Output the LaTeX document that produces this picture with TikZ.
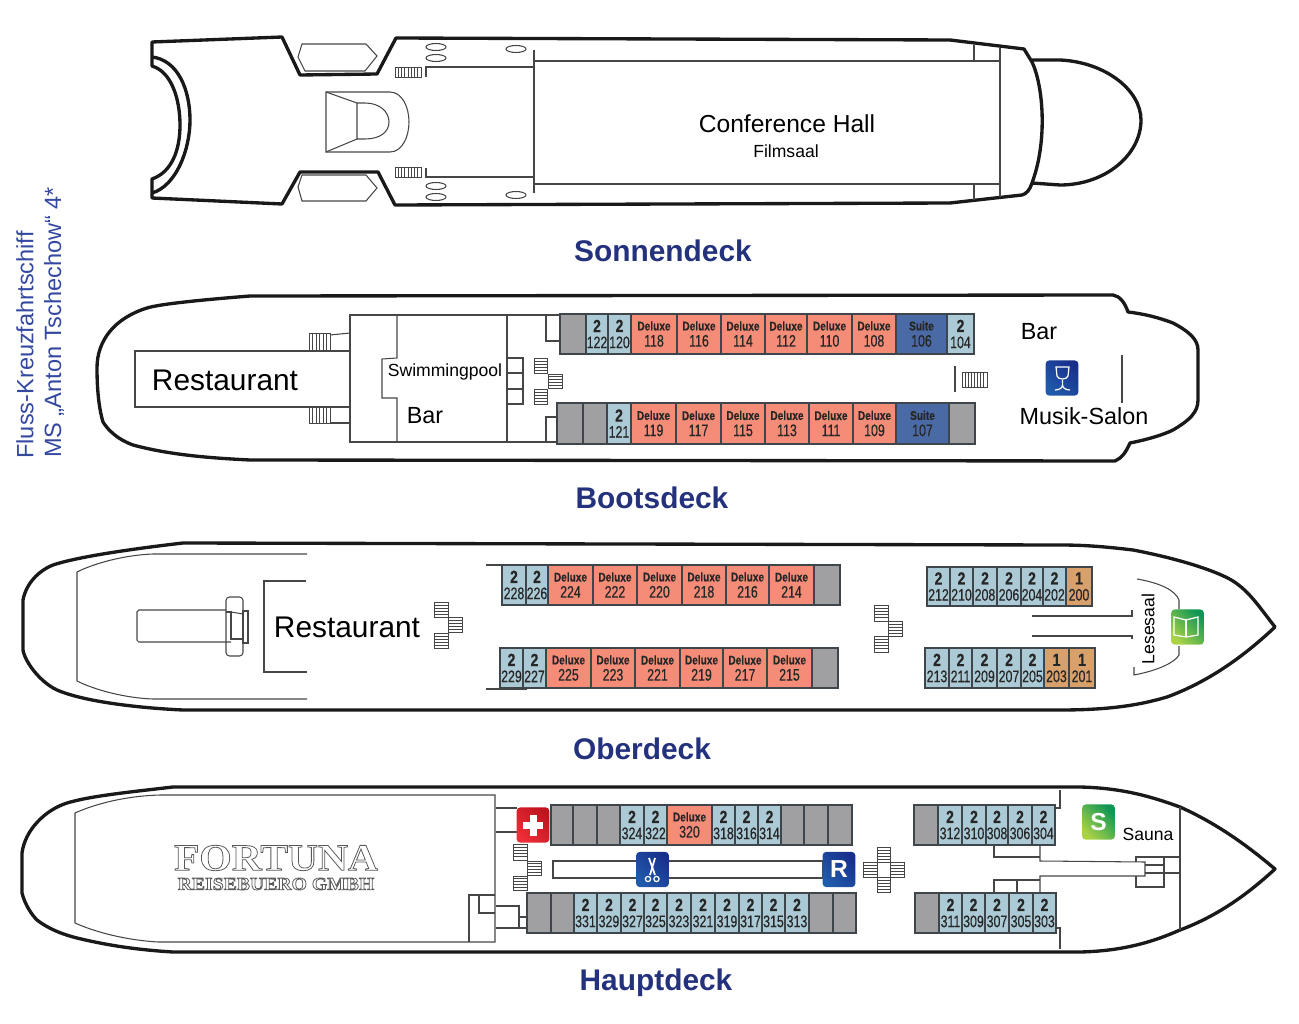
\documentclass[tikz,border=0pt]{standalone}
\usepackage{fontspec}
\setmainfont{Liberation Sans}
\newfontfamily\cabinfont[FakeStretch=0.74,FakeBold=0.4,BoldFont={Liberation Sans Bold},BoldFeatures={FakeStretch=0.8}]{Liberation Sans}
\newfontfamily\logofont[FakeStretch=1.1]{Liberation Serif}
\definecolor{decknavy}{RGB}{36,50,125}
\definecolor{sideblue}{RGB}{52,72,160}
\definecolor{cabblue}{RGB}{172,202,214}
\definecolor{cabsalmon}{RGB}{244,140,120}
\definecolor{cabsuite}{RGB}{74,106,166}
\definecolor{cabgrey}{RGB}{160,160,163}
\definecolor{caborange}{RGB}{216,160,106}
\definecolor{cabline}{RGB}{62,70,76}
\definecolor{thinline}{RGB}{70,70,70}
\definecolor{iconblueA}{RGB}{32,90,170}
\definecolor{iconblueB}{RGB}{24,48,140}
\definecolor{icongreenA}{RGB}{170,210,70}
\definecolor{icongreenB}{RGB}{15,150,85}
\definecolor{iconredA}{RGB}{238,45,55}
\definecolor{iconredB}{RGB}{190,20,30}
\tikzset{
  hull/.style={line width=1.9pt, line join=round, black!90},
  hullthin/.style={line width=0.6pt, thinline},
  stairline/.style={line width=0.45pt, thinline},
  cabbox/.style={line width=0.7pt, draw=cabline},
  cabtwo/.style={cabbox, fill=cabblue},
  cabone/.style={cabbox, fill=caborange},
  cabdeluxe/.style={cabbox, fill=cabsalmon},
  cabsuiteb/.style={cabbox, fill=cabsuite},
  cabvoid/.style={cabbox, fill=cabgrey},
  cabtext/.style={inner sep=0pt, align=center, text=black!85, font=\cabinfont\fontsize{9.5}{9.2}\selectfont},
  decktitle/.style={inner sep=0pt, text=decknavy, font=\bfseries\fontsize{17}{20}\selectfont},
  biglabel/.style={inner sep=0pt, font=\fontsize{17}{20}\selectfont},
  midlabel/.style={inner sep=0pt, font=\fontsize{13.3}{16}\selectfont},
  smalllabel/.style={inner sep=0pt, font=\fontsize{10}{12}\selectfont},
  sidelabel/.style={inner sep=0pt, rotate=90, text=sideblue, font=\fontsize{13.4}{16}\selectfont},
  iconbox/.style={rounded corners=2pt, minimum width=18.6pt, minimum height=20pt, inner sep=0pt, text=white, font=\bfseries\fontsize{14}{16}\selectfont},
  iconblue/.style={iconbox, left color=iconblueA, right color=iconblueB, shading angle=135},
  icongreen/.style={iconbox, left color=icongreenA, right color=icongreenB, shading angle=135},
  iconred/.style={iconbox, left color=iconredA, right color=iconredB, shading angle=135},
}
\newcommand{\cabinrow}[3]{
  \foreach \xa/\xb/\kind/\toptxt/\num in {#3} {
    \draw[\kind] (\xa,#1) rectangle (\xb,#2);
    \node[cabtext] (cab\num) at ({(\xa+\xb)/2},{(#1+#2)/2}) {{\bfseries\fontsize{10}{9.2}\selectfont\toptxt}\\\num};
  }
}
\newcommand{\deluxerow}[3]{
  \foreach \xa/\xb/\kind/\toptxt/\num in {#3} {
    \draw[\kind] (\xa,#1) rectangle (\xb,#2);
    \node[cabtext] (cab\num) at ({(\xa+\xb)/2},{(#1+#2)/2}) {{\bfseries\fontsize{7.2}{9.2}\selectfont\toptxt}\\\num};
  }
}
\newcommand{\voidrow}[3]{
  \foreach \xa/\xb in {#3} \draw[cabvoid] (\xa,#1) rectangle (\xb,#2);
}
\newcommand{\stairsv}[5]{
  \draw[stairline] (#1,#2) rectangle (#3,#4);
  \foreach \t in {1,...,#5} \draw[stairline] ({#1+(#3-#1)*\t/(#5+1)},#2) -- ({#1+(#3-#1)*\t/(#5+1)},#4);
}
\newcommand{\stairsh}[5]{
  \draw[stairline] (#1,#2) rectangle (#3,#4);
  \foreach \t in {1,...,#5} \draw[stairline] (#1,{#2+(#4-#2)*\t/(#5+1)}) -- (#3,{#2+(#4-#2)*\t/(#5+1)});
}
\newcommand{\logotext}[1]{\special{pdf:code q 0.35 G 0.45 w 2 Tr}#1\special{pdf:code Q}}
\begin{document}
\begin{tikzpicture}[x=0.02cm,y=-0.02cm]
\useasboundingbox (0,0) rectangle (1299,1024);

\draw[hull] (152,42)--(282,37)--(300,75)--(377,74)--(396,38)--(950,40)--(1024,49)--(1032,62)
  .. controls (1043,85) and (1048,140) .. (1032,183) .. controls (1030,190) and (1026,194) .. (1022,195)
  --(950,203)--(395,205)--(378,172)--(300,172)--(282,204)--(152,198)--(152,179)
  .. controls (172,172) and (180,150) .. (180,125) .. controls (180,100) and (172,72) .. (152,66)--cycle;
\draw[hull] (152,57) .. controls (178,60) and (190,90) .. (190,120) .. controls (190,150) and (176,186) .. (152,193);
\draw[hull] (1032,60)--(1060,60) .. controls (1105,62) and (1141,90) .. (1141,120) .. controls (1141,155) and (1105,185) .. (1060,185)--(1032,183);
\draw[hullthin] (302,44)--(366,44)--(377,56)--(365,71)--(305,71)--(298,57)--cycle;
\draw[hullthin] (302,175)--(366,175)--(377,188)--(366,201)--(302,201)--(298,187)--cycle;
\draw[hullthin] (326,92)--(390,92) .. controls (402,92) and (409,107) .. (409,122) .. controls (409,137) and (402,152) .. (390,152)--(326,152)--cycle;
\draw[hullthin] (326,92)--(357,103)--(357,139)--(326,152);
\draw[hullthin] (357,103)--(365,103) .. controls (380,103) and (389,112) .. (389,122) .. controls (389,132) and (380,139) .. (365,139)--(357,139);
\stairsv{395}{67}{421}{77}{7}
\stairsv{395}{167}{421}{177}{7}
\foreach \ox/\oy in {436/47,436/58,516/49,436/186,436/197,516/195} \draw[hullthin] (\ox,\oy) ellipse [x radius=10, y radius=3.5];
\draw[hullthin] (426,77)--(426,67)--(534,67);
\draw[hullthin] (426,168)--(426,177)--(534,177);
\draw[hullthin] (534,50)--(534,193);
\draw[hullthin] (534,61)--(1000,61);
\draw[hullthin] (534,184)--(1000,184);
\draw[hullthin] (1000,48)--(1000,197);
\draw[hullthin] (974,45)--(974,61);
\draw[hullthin] (974,184)--(974,200);
\node[inner sep=0pt, font=\fontsize{14}{16}\selectfont] (confhall) at (787,124) {Conference Hall};
\node[smalllabel] (filmsaal) at (786,151) {Filmsaal};
\node[decktitle] (sonnendeck) at (663,251) {Sonnendeck};

\node[sidelabel] (sideone) at (25,345) {Fluss-Kreuzfahrtschiff};
\node[sidelabel] (sidetwo) at (54,322.5) {MS „Anton Tschechow“ 4*};

\draw[hull] (250,296) .. controls (200,300) and (160,304) .. (147,308) .. controls (115,318) and (97,340) .. (97,368)
  .. controls (97,395) and (100,412) .. (103,422) .. controls (112,436) and (125,442) .. (133,445) .. controls (170,455) and (210,458) .. (250,460)
  --(1115,461) .. controls (1122,458) and (1126,452) .. (1130,443) .. controls (1150,439) and (1165,434) .. (1173,430) .. controls (1190,420) and (1198,412) .. (1198,400)
  --(1198,350) .. controls (1198,340) and (1190,332) .. (1173,323) .. controls (1160,318) and (1145,314) .. (1128,312) .. controls (1125,303) and (1120,296) .. (1113,295)--cycle;
\draw[hullthin] (350,351)--(135,351)--(135,407)--(350,407);
\draw[hullthin] (559,315)--(350,315)--(350,442)--(557,442);
\draw[hullthin] (397,315)--(397,358)--(382,359)--(382,398)--(397,398)--(397,442);
\draw[hullthin] (507,315)--(507,442);
\draw[hullthin] (507,358) rectangle (523,373);
\draw[hullthin] (507,373) rectangle (523,389);
\draw[hullthin] (507,389) rectangle (523,404);
\draw[hullthin] (546,315)--(546,341)--(559,341);
\draw[hullthin] (557,417)--(546,417)--(546,442);
\stairsh{534}{358}{547}{373}{4}
\stairsh{548}{374}{562}{388}{4}
\stairsh{534}{389}{547}{404}{4}
\stairsv{309}{333}{330}{351}{5}
\stairsv{309}{407}{330}{423}{5}
\draw[hullthin] (330,335)--(350,333);
\draw[hullthin] (330,423)--(350,423);
\stairsv{962}{372}{987}{387}{7}
\draw[hullthin] (955,366)--(955,392);
\draw[hullthin] (1122,355)--(1122,403);
\voidrow{314}{354}{560/586}
\cabinrow{314}{354}{586/608/cabtwo/2/122, 608/631/cabtwo/2/120, 947/974/cabtwo/2/104}
\deluxerow{314}{354}{631/677/cabdeluxe/Deluxe/118, 677/721/cabdeluxe/Deluxe/116, 721/765/cabdeluxe/Deluxe/114, 765/807/cabdeluxe/Deluxe/112, 807/852/cabdeluxe/Deluxe/110, 852/896/cabdeluxe/Deluxe/108, 896/947/cabsuiteb/Suite/106}
\voidrow{403}{444}{557/583, 583/607, 949/975}
\cabinrow{403}{444}{607/631/cabtwo/2/121}
\deluxerow{403}{444}{631/676/cabdeluxe/Deluxe/119, 676/721/cabdeluxe/Deluxe/117, 721/765/cabdeluxe/Deluxe/115, 765/809/cabdeluxe/Deluxe/113, 809/853/cabdeluxe/Deluxe/111, 853/896/cabdeluxe/Deluxe/109, 896/949/cabsuiteb/Suite/107}
\node[biglabel] (restboots) at (225,380) {Restaurant};
\node[smalllabel] (swimpool) at (445,372) {Swimmingpool};
\node[midlabel] (barleft) at (425,416) {Bar};
\node[midlabel] (barright) at (1039,332) {Bar};
\node[midlabel] (musiksalon) at (1084,416) {Musik-Salon};
\node[iconblue] (glassicon) at (1062,378) {};
\draw[white, line width=0.7pt] (1056,367)--(1069,367)--(1068,376) .. controls (1067,380) and (1058,380) .. (1057,376)--cycle;
\draw[white, line width=0.7pt] (1062.5,380)--(1062.5,385) .. controls (1062.5,388) and (1059,390) .. (1055,390);
\draw[white, line width=0.7pt] (1062.5,385) .. controls (1062.5,388) and (1066,390) .. (1070,390);
\node[decktitle] (bootsdeck) at (652,498) {Bootsdeck};

\draw[hull] (183,543) .. controls (140,548) and (80,556) .. (53,565) .. controls (38,571) and (26,584) .. (23,600)
  --(23,650) .. controls (25,662) and (40,682) .. (57,690) .. controls (85,702) and (140,708) .. (183,710)
  --(1060,710) .. controls (1110,710) and (1140,705) .. (1167,697) .. controls (1205,683) and (1240,660) .. (1275,627)
  .. controls (1260,608) and (1250,592) .. (1233,581) .. controls (1215,570) and (1175,558) .. (1133,550) .. controls (1100,546) and (1080,545) .. (1060,545)--cycle;
\draw[hullthin] (307,554)--(153,554) .. controls (125,555) and (95,563) .. (77,572)--(77,681) .. controls (95,690) and (125,698) .. (153,699)--(307,699);
\draw[hullthin] (306,581)--(264,581)--(264,672)--(307,672);
\draw[hullthin, rounded corners=1pt] (226,610)--(137,610)--(137,642)--(231,642);
\draw[hullthin, rounded corners=2pt] (226,597) rectangle (243,656);
\draw[hullthin] (226,612)--(231,612)--(231,639)--(243,639);
\draw[hullthin] (231,612)--(243,614);
\draw[hullthin] (243,611) rectangle (248,643);
\stairsh{434}{602}{448}{617}{4}
\stairsh{448}{617}{462}{632}{4}
\stairsh{434}{633}{448}{648}{4}
\stairsh{874}{605}{888}{621}{4}
\stairsh{888}{621}{902}{636}{4}
\stairsh{874}{636}{888}{652}{4}
\draw[hullthin] (1032,616)--(1132,616)--(1132,610);
\draw[hullthin] (1032,636)--(1132,636)--(1132,639);
\draw[hullthin] (1137,579) .. controls (1160,583) and (1175,590) .. (1179,600)--(1179,609);
\draw[hullthin] (1134,667)--(1134,675) .. controls (1160,670) and (1175,662) .. (1179,655)--(1179,646);
\draw[hullthin] (486,565)--(502,565);
\draw[hullthin] (486,689)--(527,689);
\cabinrow{565}{605}{502/526/cabtwo/2/228, 526/548/cabtwo/2/226}
\deluxerow{565}{605}{548/593/cabdeluxe/Deluxe/224, 593/637/cabdeluxe/Deluxe/222, 637/682/cabdeluxe/Deluxe/220, 682/726/cabdeluxe/Deluxe/218, 726/769/cabdeluxe/Deluxe/216, 769/814/cabdeluxe/Deluxe/214}
\voidrow{565}{605}{814/840}
\cabinrow{648}{688}{500/523/cabtwo/2/229, 523/546/cabtwo/2/227}
\deluxerow{648}{688}{546/591/cabdeluxe/Deluxe/225, 591/635/cabdeluxe/Deluxe/223, 635/680/cabdeluxe/Deluxe/221, 680/723/cabdeluxe/Deluxe/219, 723/767/cabdeluxe/Deluxe/217, 767/812/cabdeluxe/Deluxe/215}
\voidrow{648}{688}{812/838}
\cabinrow{567}{606}{927/950/cabtwo/2/212, 950/973/cabtwo/2/210, 973/997/cabtwo/2/208, 997/1021/cabtwo/2/206, 1021/1043/cabtwo/2/204, 1043/1066/cabtwo/2/202, 1066/1092/cabone/1/200}
\cabinrow{648}{688}{925/949/cabtwo/2/213, 949/972/cabtwo/2/211, 972/997/cabtwo/2/209, 997/1021/cabtwo/2/207, 1021/1044/cabtwo/2/205, 1044/1069/cabone/1/203, 1069/1095/cabone/1/201}
\node[biglabel] (restober) at (347,627) {Restaurant};
\node[smalllabel, rotate=90] (lesesaal) at (1148,629) {Lesesaal};
\node[icongreen] (bookicon) at (1187.5,627) {};
\draw[white, line width=0.7pt] (1174,617)--(1186,620)--(1198,617)--(1198,635)--(1186,637)--(1174,635)--cycle;
\draw[white, line width=0.7pt] (1186,620)--(1186,637);
\node[decktitle] (oberdeck) at (642,749) {Oberdeck};

\draw[hull] (173,787) .. controls (130,792) and (90,796) .. (67,803) .. controls (45,810) and (25,830) .. (22,853)
  --(22,893) .. controls (25,905) and (32,915) .. (37,920) .. controls (50,930) and (65,935) .. (77,938) .. controls (110,946) and (140,950) .. (173,952)
  --(1080,952) .. controls (1125,951) and (1155,941) .. (1180,930) .. controls (1220,915) and (1250,892) .. (1275,869)
  .. controls (1250,848) and (1220,825) .. (1180,807) .. controls (1155,798) and (1125,788) .. (1080,787)--cycle;
\draw[hullthin] (495,795)--(160,795) .. controls (125,796) and (95,804) .. (75,813)--(75,923) .. controls (95,932) and (125,940) .. (158,942)--(495,942)--cycle;
\draw[hullthin] (496,808)--(517,808);
\draw[hullthin] (496,832)--(517,832);
\draw[hullthin] (469,942)--(469,895)--(495,895);
\draw[hullthin] (479,895)--(479,913)--(495,913);
\draw[hullthin] (496,906)--(519,906)--(519,928);
\draw[hullthin] (496,928)--(527,928);
\draw[hullthin] (519,917)--(527,917);
\stairsh{513}{844}{527}{860}{4}
\stairsh{527}{861}{541}{875}{4}
\stairsh{513}{876}{527}{890}{4}
\stairsh{863}{862}{877}{877}{4}
\stairsh{877}{847}{890}{862}{4}
\stairsh{890}{862}{904}{877}{4}
\stairsh{877}{877}{890}{892}{4}
\draw[hullthin] (553,861) rectangle (823,878);
\draw[hullthin] (1060,790)--(1060,808)--(1055,808);
\draw[hullthin] (1056,928)--(1060,928)--(1060,949);
\draw[hullthin] (1180,807)--(1180,930);
\draw[hullthin] (1040,845)--(1040,861)--(1145,862)--(1145,876)--(1040,876)--(1040,892);
\draw[hullthin] (994,845)--(994,857)--(1040,857);
\draw[hullthin] (994,892)--(994,880)--(1040,880);
\draw[hullthin] (1017,880)--(1017,892);
\draw[hullthin] (1136,862)--(1136,857)--(1180,857);
\draw[hullthin] (1164,857)--(1164,887)--(1136,887)--(1136,876);
\draw[hullthin] (1145,873)--(1180,873);
\draw[hullthin] (1145,865)--(1164,865);
\voidrow{805}{845}{551/573, 573/597, 597/620, 781/804, 804/828, 828/852}
\cabinrow{805}{845}{620/644/cabtwo/2/324, 644/667/cabtwo/2/322, 712/735/cabtwo/2/318, 735/758/cabtwo/2/316, 758/781/cabtwo/2/314}
\deluxerow{805}{845}{667/712/cabdeluxe/Deluxe/320}
\voidrow{893}{933}{527/551, 551/574, 809/833, 833/856}
\cabinrow{893}{933}{574/597/cabtwo/2/331, 597/621/cabtwo/2/329, 621/644/cabtwo/2/327, 644/667/cabtwo/2/325, 667/691/cabtwo/2/323, 691/715/cabtwo/2/321, 715/739/cabtwo/2/319, 739/762/cabtwo/2/317, 762/785/cabtwo/2/315, 785/809/cabtwo/2/313}
\voidrow{805}{845}{914/938}
\cabinrow{805}{845}{938/962/cabtwo/2/312, 962/986/cabtwo/2/310, 986/1008/cabtwo/2/308, 1008/1032/cabtwo/2/306, 1032/1055/cabtwo/2/304}
\voidrow{893}{933}{915/939}
\cabinrow{893}{933}{939/962/cabtwo/2/311, 962/985/cabtwo/2/309, 985/1009/cabtwo/2/307, 1009/1033/cabtwo/2/305, 1033/1056/cabtwo/2/303}
\node[iconred] (crossicon) at (533,825) {};
\fill[white] (530,815) rectangle (537,836);
\fill[white] (523,822) rectangle (543,829);
\node[iconblue] (scissoricon) at (652.5,869.5) {};
\draw[white, line width=1pt] (649,858)--(655,875);
\draw[white, line width=1pt] (655,858)--(650,875);
\draw[white, line width=0.7pt] (648,879) circle [radius=2.6];
\draw[white, line width=0.7pt] (656.5,879) circle [radius=2.6];
\node[iconblue] (ricon) at (839,869.5) {R};
\node[icongreen] (saunaicon) at (1098.5,822) {S};
\node[smalllabel] (sauna) at (1148,834) {Sauna};
\node[inner sep=0pt, text=white, font=\logofont\bfseries\fontsize{21.5}{24}\selectfont] (fortuna) at (276,858) {\logotext{FORTUNA}};
\node[inner sep=0pt, text=white, font=\logofont\bfseries\fontsize{10.2}{12}\selectfont] (reise) at (276,884) {\logotext{REISEBUERO GMBH}};
\node[decktitle] (hauptdeck) at (656,983) {Hauptdeck};
\end{tikzpicture}
\end{document}
